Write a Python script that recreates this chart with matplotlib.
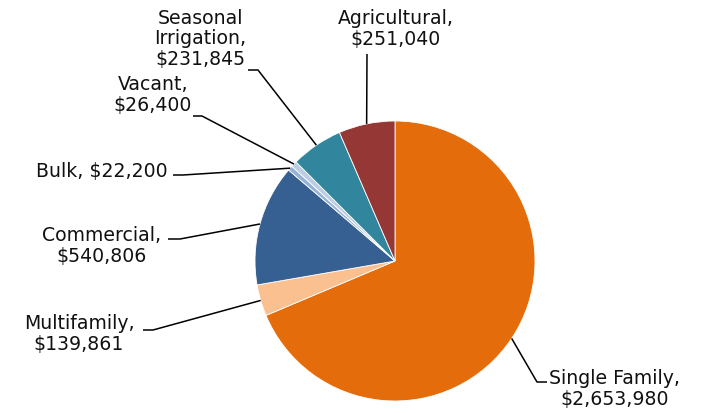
import numpy as np
import matplotlib.pyplot as plt

plt.rcParams['font.family'] = 'DejaVu Sans'

# revenue by customer class, drawn clockwise from 12 o'clock
categories = ['Single Family', 'Multifamily', 'Commercial', 'Bulk', 'Vacant',
              'Seasonal\nIrrigation', 'Agricultural']
values = [2653980, 139861, 540806, 22200, 26400, 231845, 251040]
colors = ['#E46C0A', '#FAC090', '#376092', '#95B3D7', '#B9CDE5', '#31859C', '#953735']

W, H = 701, 414
fig = plt.figure(figsize=(W / 100, H / 100), dpi=100)
ax = fig.add_axes([0, 0, 1, 1])

cx, cy, r = 395, H - 262, 140
wedges, _ = ax.pie(values, colors=colors, startangle=90, counterclock=False,
                   center=(cx, cy), radius=r, frame=True,
                   wedgeprops=dict(edgecolor='white', linewidth=0.6))
ax.set_xlim(0, W)
ax.set_ylim(0, H)
ax.set_aspect('equal')
ax.axis('off')

# label placement: (text x, text y, elbow x, elbow y, end of horizontal x)
# y values in pixel rows from the top
layout = {
    'Single Family': (615, 389, 537, 383, 547),
    'Multifamily': (79, 334, 153, 331, 143),
    'Commercial': (102, 246, 180, 240, 168),
    'Bulk': (102, 172, 183, 176, 173),
    'Vacant': (153, 95, 202, 117, 193),
    'Seasonal\nIrrigation': (200, 39, 258, 71, 248),
    'Agricultural': (396, 29, 367, 55, 367),
}

for w, name, v in zip(wedges, categories, values):
    mid = np.deg2rad((w.theta1 + w.theta2) / 2)
    px = cx + r * np.cos(mid)
    py = cy + r * np.sin(mid)
    tx, ty, ex, ey, hx = layout[name]
    ax.plot([px, ex, hx], [py, H - ey, H - ey], color='black', lw=1.1,
            solid_capstyle='butt', zorder=3)
    sep = ' ' if name == 'Bulk' else '\n'
    ax.text(tx, H - ty, f'{name},{sep}${v:,}', ha='center', va='center',
            multialignment='center', fontsize=13.6, linespacing=1.13,
            color='#111111')

fig.savefig('out.png', dpi=100)
